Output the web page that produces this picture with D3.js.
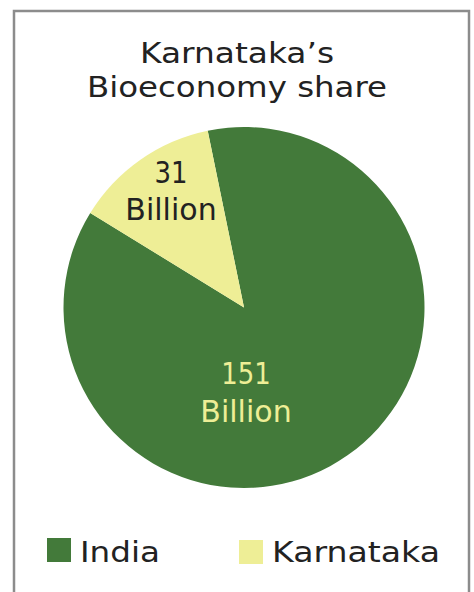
<!DOCTYPE html>
<html>
<head>
<meta charset="utf-8">
<script src="https://cdn.jsdelivr.net/npm/d3@7"></script>
<style>
  html, body { margin: 0; padding: 0; background: #fff; }
  svg { display: block; font-family: "DejaVu Sans", "Noto Sans", sans-serif; }
</style>
</head>
<body>
<div id="chart"></div>
<script>
// values as labelled in the picture
const regions = ['India', 'Karnataka'];
const amounts = ['151', '31'];
// slice shares as drawn in the picture (percent of the circle)
const shares = [87, 13];
const titleLines = ['Karnataka\u2019s', 'Bioeconomy share'];

const width = 474, height = 592;
const cx = 244, cy = 307.5, radius = 180.5;

const color = d3.scaleOrdinal()
    .domain(regions)
    .range(['#437a3a', '#eeee96']);
const labelColor = d3.scaleOrdinal()
    .domain(regions)
    .range(['#eeee96', '#222222']);

const svg = d3.select('#chart')
    .append('svg')
    .attr('width', width)
    .attr('height', height);

// frame
svg.append('rect')
    .attr('x', 14)
    .attr('y', 11)
    .attr('width', 455)
    .attr('height', 620)
    .attr('fill', 'none')
    .attr('stroke', '#8c8c8c')
    .attr('stroke-width', 2.5);

// title, stretched to the wide geometric face of the original
const titleLen = [194, 300];
svg.selectAll('text.title')
    .data(titleLines)
    .enter()
    .append('text')
        .attr('class', 'title')
        .attr('x', 237)
        .attr('y', (d, i) => 63 + i * 34)
        .attr('text-anchor', 'middle')
        .attr('textLength', (d, i) => titleLen[i])
        .attr('lengthAdjust', 'spacingAndGlyphs')
        .style('font-size', '27.5px')
        .attr('fill', '#222')
        .text(d => d);

const start = -11.6 * Math.PI / 180;
const pie = d3.pie()
    .sort(null)
    .startAngle(start)
    .endAngle(start + 2 * Math.PI);

const arcs = pie(shares)
    .map((a, i) => Object.assign(a, { region: regions[i], amount: amounts[i] }));

const arc = d3.arc().innerRadius(0).outerRadius(radius);
const labelArc = d3.arc().innerRadius(136).outerRadius(136);

const g = svg.append('g').attr('transform', `translate(${cx},${cy})`);

g.selectAll('path')
    .data(arcs)
    .enter()
    .append('path')
        .attr('d', arc)
        .attr('fill', d => color(d.region));

const labels = g.selectAll('g.lbl')
    .data(arcs)
    .enter()
    .append('g')
        .attr('class', 'lbl')
        .attr('transform', d => {
            if (d.region === 'India') return 'translate(2,84)';
            const c = labelArc.centroid(d);
            return `translate(${c[0] + 5},${c[1] - 5})`;
        });

labels.append('text')
    .attr('y', -8)
    .attr('text-anchor', 'middle')
    .attr('textLength', d => d.amount.length * 16.5)
    .attr('lengthAdjust', 'spacingAndGlyphs')
    .style('font-size', '30px')
    .attr('fill', d => labelColor(d.region))
    .text(d => d.amount);

labels.append('text')
    .attr('y', d => d.region === 'India' ? 30 : 29)
    .attr('text-anchor', 'middle')
    .style('font-size', '30px')
    .attr('fill', d => labelColor(d.region))
    .text('Billion');

// legend
const legendX = [47, 239];
const legendLen = [80, 168];
const legend = svg.selectAll('g.legend')
    .data(regions)
    .enter()
    .append('g')
        .attr('class', 'legend')
        .attr('transform', (d, i) => `translate(${legendX[i]},538)`);

legend.append('rect')
    .attr('width', 24)
    .attr('height', 24)
    .attr('y', (d, i) => i * 2)
    .attr('fill', d => color(d));

legend.append('text')
    .attr('x', 33)
    .attr('y', 24)
    .attr('textLength', (d, i) => legendLen[i])
    .attr('lengthAdjust', 'spacingAndGlyphs')
    .style('font-size', '29px')
    .attr('fill', '#222')
    .text(d => d);
</script>
</body>
</html>
